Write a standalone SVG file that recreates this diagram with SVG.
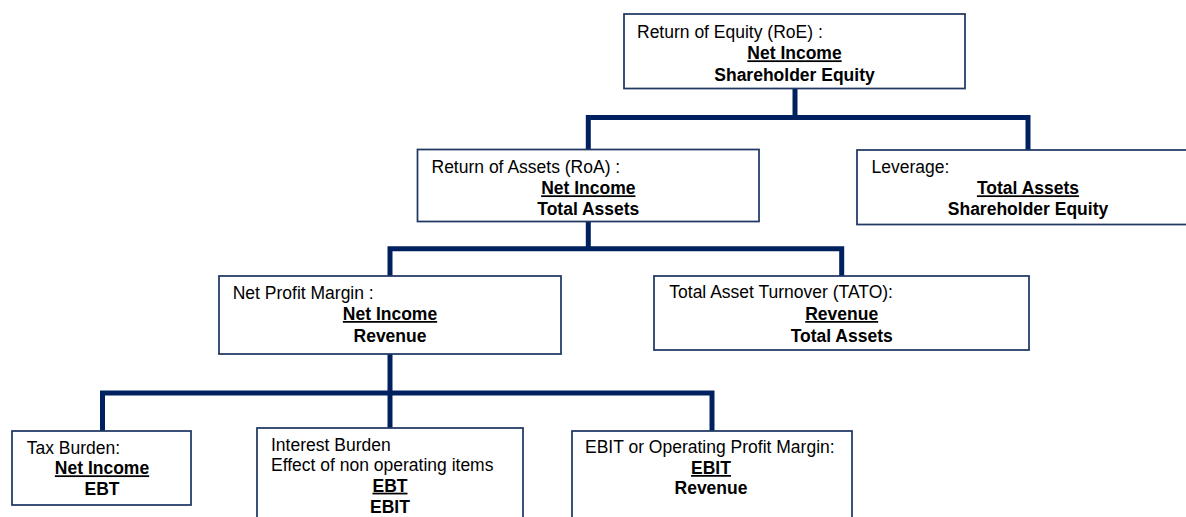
<svg xmlns="http://www.w3.org/2000/svg" width="1186" height="517" viewBox="0 0 1186 517">
<style>
.box{fill:#ffffff;stroke:#1F3864;stroke-width:1.75}
.conn{fill:none;stroke:#002060;stroke-width:5;stroke-linejoin:miter;stroke-linecap:butt}
text{font-family:"Liberation Sans",Arial,sans-serif;font-size:17.5px;fill:#000}
.lbl{text-anchor:start}
.b{font-weight:bold;text-anchor:middle}
.u{text-decoration:underline}
</style>
<rect x="0" y="0" width="1186" height="517" fill="#ffffff"/>
<g id="connectors">
<path class="conn" d="M795,88 V117.5"/>
<path class="conn" d="M588.3,149.5 V117.5 H1028 V150"/>
<path class="conn" d="M588.3,221.5 V248.7"/>
<path class="conn" d="M390,276 V248.7 H841.7 V276"/>
<path class="conn" d="M390,354 V393"/>
<path class="conn" d="M102.5,431 V393 H712 V431"/>
<path class="conn" d="M390,393 V428"/>
</g>
<g id="roe">
<rect class="box" x="624" y="14" width="341" height="74.5"/>
<text class="lbl" x="637" y="37.5">Return of Equity (RoE) :</text>
<text class="b u" x="794.5" y="59.3">Net Income</text>
<text class="b" x="794.5" y="81">Shareholder Equity</text>
</g>
<g id="roa">
<rect class="box" x="417.5" y="149.5" width="341.5" height="72"/>
<text class="lbl" x="431.5" y="173.3">Return of Assets (RoA) :</text>
<text class="b u" x="588.3" y="194.3">Net Income</text>
<text class="b" x="588.3" y="215">Total Assets</text>
</g>
<g id="leverage">
<rect class="box" x="857" y="150" width="342" height="74.5"/>
<text class="lbl" x="871.5" y="173">Leverage:</text>
<text class="b u" x="1028" y="194.3">Total Assets</text>
<text class="b" x="1028" y="215">Shareholder Equity</text>
</g>
<g id="npm">
<rect class="box" x="219" y="276" width="342" height="78"/>
<text class="lbl" x="232.7" y="299.3">Net Profit Margin :</text>
<text class="b u" x="390" y="320">Net Income</text>
<text class="b" x="390" y="341.7">Revenue</text>
</g>
<g id="tato">
<rect class="box" x="654" y="276" width="375" height="74"/>
<text class="lbl" x="669.3" y="298.3">Total Asset Turnover (TATO):</text>
<text class="b u" x="841.7" y="320">Revenue</text>
<text class="b" x="841.7" y="341.7">Total Assets</text>
</g>
<g id="tax">
<rect class="box" x="12" y="431" width="179" height="74"/>
<text class="lbl" x="26.7" y="454">Tax Burden:</text>
<text class="b u" x="102" y="474.3">Net Income</text>
<text class="b" x="102" y="495">EBT</text>
</g>
<g id="interest">
<rect class="box" x="257" y="428" width="266" height="100"/>
<text class="lbl" x="271" y="450.7">Interest Burden</text>
<text class="lbl" x="271" y="470.7">Effect of non operating items</text>
<text class="b u" x="390" y="491.7">EBT</text>
<text class="b" x="390" y="512.7">EBIT</text>
</g>
<g id="ebit">
<rect class="box" x="572" y="431" width="280" height="100"/>
<text class="lbl" x="585" y="453.3">EBIT or Operating Profit Margin:</text>
<text class="b u" x="711" y="474">EBIT</text>
<text class="b" x="711" y="494.3">Revenue</text>
</g>
</svg>
